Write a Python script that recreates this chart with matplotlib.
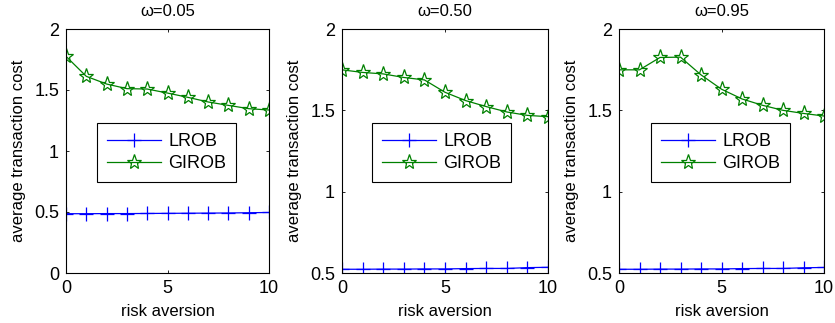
import matplotlib
matplotlib.use("Agg")
import matplotlib.pyplot as plt

x = list(range(11))
titles = ["\u03c9=0.05", "\u03c9=0.50", "\u03c9=0.95"]
lrob_005 = [0.486, 0.486, 0.487, 0.487, 0.488, 0.489, 0.490, 0.491, 0.492, 0.494, 0.496]
girob_005 = [1.776, 1.612, 1.549, 1.511, 1.508, 1.475, 1.440, 1.402, 1.374, 1.347, 1.336]
lrob_050 = [0.523, 0.523, 0.524, 0.524, 0.525, 0.525, 0.527, 0.528, 0.528, 0.533, 0.535]
girob_050 = [1.749, 1.733, 1.724, 1.702, 1.687, 1.611, 1.560, 1.523, 1.490, 1.469, 1.461]
lrob_095 = [0.523, 0.523, 0.524, 0.524, 0.525, 0.525, 0.527, 0.528, 0.528, 0.532, 0.534]
girob_095 = [1.749, 1.749, 1.825, 1.827, 1.718, 1.630, 1.570, 1.531, 1.500, 1.481, 1.465]
lrob = [lrob_005, lrob_050, lrob_095]
girob = [girob_005, girob_050, girob_095]
ylims = [(0, 2), (0.5, 2), (0.5, 2)]
yticks = [[0, 0.5, 1, 1.5, 2], [0.5, 1, 1.5, 2], [0.5, 1, 1.5, 2]]
yticklabels = [["0", "0.5", "1", "1.5", "2"], ["0.5", "1", "1.5", "2"], ["0.5", "1", "1.5", "2"]]
xticks = [0, 5, 10]

plt.rcParams['font.family'] = ['Liberation Sans', 'DejaVu Sans']

W, H = 835, 323
fig = plt.figure(figsize=(W / 100, H / 100), dpi=100)

# axes pixel boxes: left, right, top, bottom
boxes = [(66, 269, 29, 273), (342, 548, 29, 273), (619, 824, 29, 273)]
legboxes = [(97, 123), (372, 123), (651, 123)]

for i in range(3):
    l, r, t, b = boxes[i]
    ax = fig.add_axes([l / W, 1 - b / H, (r - l) / W, (b - t) / H])
    ax.plot(x, lrob[i], color=(0, 0, 1), marker='+', markersize=10, linewidth=0.9,
            markeredgewidth=0.9, label='LROB')
    ax.plot(x, girob[i], color=(0, 0.5, 0), marker='*', markersize=11, linewidth=0.9,
            markerfacecolor='none', markeredgewidth=0.9, label='GIROB')
    ax.set_xlim(0, 10)
    ax.set_ylim(*ylims[i])
    ax.set_xticks(xticks)
    ax.set_xticklabels([str(v) for v in xticks])
    ax.set_yticks(yticks[i])
    ax.set_yticklabels(yticklabels[i])
    ax.tick_params(direction='in', length=2, width=0.6, top=True, right=True,
                   labelsize=13, pad=5)
    for s in ax.spines.values():
        s.set_linewidth(0.8)
    ax.set_xlabel('risk aversion', fontsize=12, labelpad=5)
    ax.set_ylabel('average transaction cost', fontsize=12, labelpad=6)
    ax.set_title(titles[i], fontsize=12, pad=9.5)
    lx, ly = legboxes[i]
    leg = ax.legend(loc='upper left', bbox_to_anchor=((lx - l) / (r - l), 1 - (ly - t) / (b - t)),
                    fontsize=13, frameon=True, fancybox=False, edgecolor='black',
                    framealpha=1, borderpad=0.55, handlelength=3.0, handletextpad=0.4,
                    labelspacing=0.3, borderaxespad=0)
    leg.get_frame().set_linewidth(0.8)

fig.savefig('out.png', dpi=100)
